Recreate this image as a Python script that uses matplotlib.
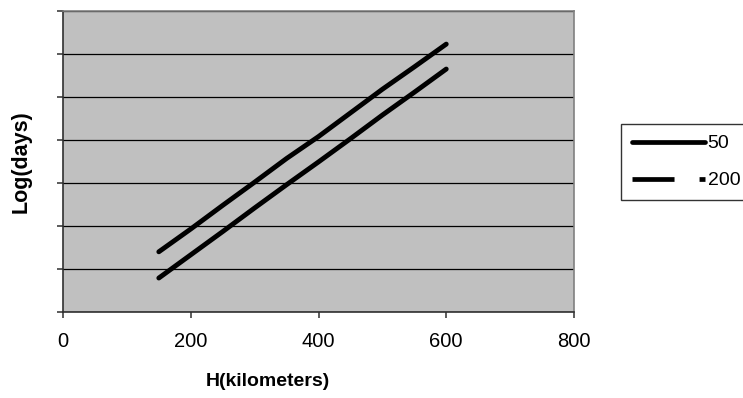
#!/usr/bin/env python3
import matplotlib
matplotlib.use('Agg')
import matplotlib.pyplot as plt
from matplotlib.lines import Line2D

plt.rcParams['font.family'] = ['Liberation Sans', 'DejaVu Sans']

# altitude H (km) and log(days)
h_km = [150, 200, 250, 300, 350, 400, 450, 500, 550, 600]
log_days_50 = [1.40, 1.93, 2.48, 3.02, 3.57, 4.08, 4.63, 5.18, 5.70, 6.23]
log_days_200 = [0.79, 1.33, 1.87, 2.42, 2.96, 3.49, 4.03, 4.58, 5.11, 5.65]
series_labels = ['50', '200']
x_ticks = [0, 200, 400, 600, 800]
y_ticks = [0, 1, 2, 3, 4, 5, 6, 7]

fig = plt.figure(figsize=(7.43, 3.98), dpi=100)
ax = fig.add_axes([63 / 743, 1 - 312 / 398, 511 / 743, 301 / 398])
ax.set_facecolor('#c0c0c0')

ax.plot(h_km, log_days_50, color='black', linewidth=3.5, solid_capstyle='round', zorder=3)
ax.plot(h_km, log_days_200, color='black', linewidth=3.5, solid_capstyle='round', zorder=3)

ax.set_xlim(0, 800)
ax.set_ylim(0, 7)
ax.set_xticks(x_ticks)
ax.set_yticks(y_ticks)
ax.set_yticklabels([])
ax.grid(axis='y', color='black', linewidth=0.9)
ax.set_axisbelow(True)
ax.tick_params(axis='both', direction='out', length=4.5, width=1.2, color='#404040')
ax.tick_params(axis='x', labelsize=14.5, pad=10)

for side in ['top', 'right']:
    ax.spines[side].set_color('#808080')
    ax.spines[side].set_linewidth(1.2)
for side in ['left', 'bottom']:
    ax.spines[side].set_color('#303030')
    ax.spines[side].set_linewidth(1.2)

ax.set_xlabel('H(kilometers)', fontsize=14, fontweight='bold', va='center')
ax.xaxis.set_label_coords((268 - 63) / 511, (312 - 382) / 301)
ax.set_ylabel('Log(days)', fontsize=15.5, fontweight='bold', va='center', ha='center')
ax.yaxis.set_label_coords((21 - 63) / 511, (312 - 162) / 301)

handles = [
    Line2D([], [], color='black', linewidth=3.4, solid_capstyle='round'),
    Line2D([], [], color='black', linewidth=3.4, dash_capstyle='butt',
           linestyle=(0, (8.9, 5.3, 1.3, 20))),
]
leg = fig.legend(handles, series_labels, loc='upper left',
                 bbox_to_anchor=(621 / 743, 1 - 124 / 398), fontsize=14,
                 frameon=True, fancybox=False, edgecolor='black',
                 handlelength=3.75, handletextpad=0.15, labelspacing=1.0,
                 borderpad=0.55, borderaxespad=0)
leg.get_frame().set_linewidth(1.0)

fig.savefig('out.png', dpi=100)
